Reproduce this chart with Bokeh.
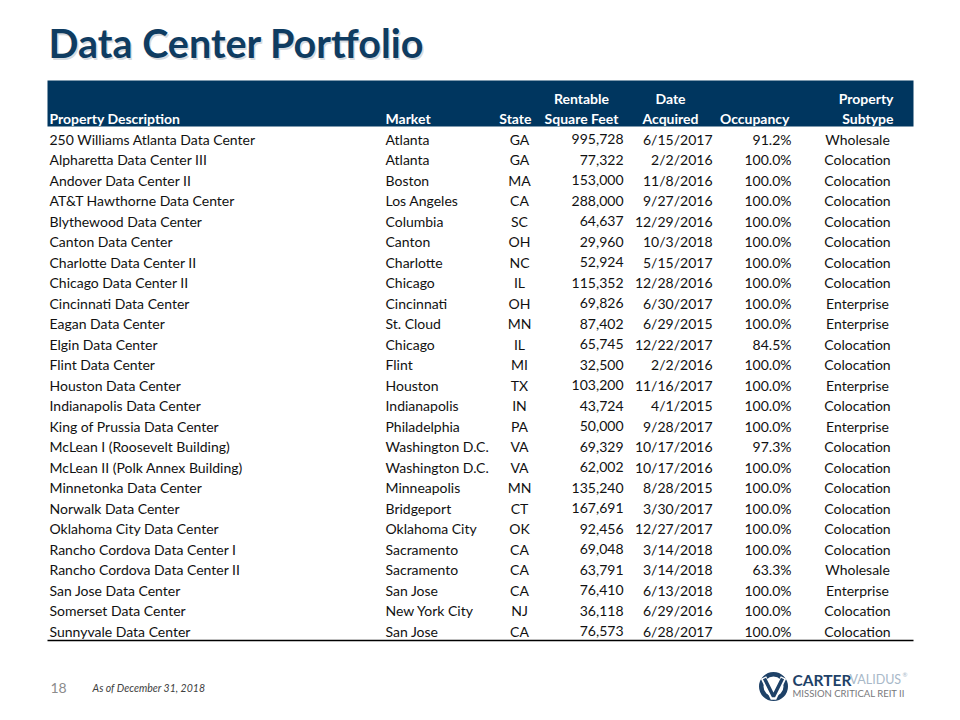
from bokeh.plotting import figure
from bokeh.models import Range1d, ColumnDataSource
from bokeh.core.properties import value
from bokeh.embed import file_html
from bokeh.resources import INLINE

title = "Data Center Portfolio"

properties = [
    "250 Williams Atlanta Data Center", "Alpharetta Data Center III", "Andover Data Center II",
    "AT&T Hawthorne Data Center", "Blythewood Data Center", "Canton Data Center",
    "Charlotte Data Center II", "Chicago Data Center II", "Cincinnati Data Center",
    "Eagan Data Center", "Elgin Data Center", "Flint Data Center", "Houston Data Center",
    "Indianapolis Data Center", "King of Prussia Data Center", "McLean I (Roosevelt Building)",
    "McLean II (Polk Annex Building)", "Minnetonka Data Center", "Norwalk Data Center",
    "Oklahoma City Data Center", "Rancho Cordova Data Center I", "Rancho Cordova Data Center II",
    "San Jose Data Center", "Somerset Data Center", "Sunnyvale Data Center",
]
markets = [
    "Atlanta", "Atlanta", "Boston", "Los Angeles", "Columbia", "Canton", "Charlotte", "Chicago",
    "Cincinnati", "St. Cloud", "Chicago", "Flint", "Houston", "Indianapolis", "Philadelphia",
    "Washington D.C.", "Washington D.C.", "Minneapolis", "Bridgeport", "Oklahoma City",
    "Sacramento", "Sacramento", "San Jose", "New York City", "San Jose",
]
states = ["GA", "GA", "MA", "CA", "SC", "OH", "NC", "IL", "OH", "MN", "IL", "MI", "TX", "IN",
          "PA", "VA", "VA", "MN", "CT", "OK", "CA", "CA", "CA", "NJ", "CA"]
square_feet = [995728, 77322, 153000, 288000, 64637, 29960, 52924, 115352, 69826, 87402, 65745,
               32500, 103200, 43724, 50000, 69329, 62002, 135240, 167691, 92456, 69048, 63791,
               76410, 36118, 76573]
date_acquired = ["6/15/2017", "2/2/2016", "11/8/2016", "9/27/2016", "12/29/2016", "10/3/2018",
                 "5/15/2017", "12/28/2016", "6/30/2017", "6/29/2015", "12/22/2017", "2/2/2016",
                 "11/16/2017", "4/1/2015", "9/28/2017", "10/17/2016", "10/17/2016", "8/28/2015",
                 "3/30/2017", "12/27/2017", "3/14/2018", "3/14/2018", "6/13/2018", "6/29/2016",
                 "6/28/2017"]
occupancy = [91.2, 100.0, 100.0, 100.0, 100.0, 100.0, 100.0, 100.0, 100.0, 100.0, 84.5, 100.0,
             100.0, 100.0, 100.0, 97.3, 100.0, 100.0, 100.0, 100.0, 100.0, 63.3, 100.0, 100.0,
             100.0]
subtypes = ["Wholesale", "Colocation", "Colocation", "Colocation", "Colocation", "Colocation",
            "Colocation", "Colocation", "Enterprise", "Enterprise", "Colocation", "Colocation",
            "Enterprise", "Colocation", "Enterprise", "Colocation", "Colocation", "Colocation",
            "Colocation", "Colocation", "Colocation", "Wholesale", "Enterprise", "Colocation",
            "Colocation"]

header_line1 = ["", "", "", "Rentable", "Date", "", "Property"]
header_line2 = ["Property Description", "Market", "State", "Square Feet", "Acquired",
                "Occupancy", "Subtype"]
footer_page = "18"
footer_note = "As of December 31, 2018"

# ---- layout (pixel-like coordinates, y downward) ----
W, H = 944, 704
p = figure(width=W, height=H, x_range=Range1d(0, W), y_range=Range1d(H, 0),
           output_backend="svg", toolbar_location=None, min_border=0)
p.axis.visible = False
p.grid.visible = False
p.outline_line_color = None
p.background_fill_color = "white"
p.border_fill_color = "white"

FONT = value("Lato")
NAVY = "#00365f"
MID = "middle"

# title with soft shadow
p.text(x=[49.5], y=[43.5], text=[title], text_font=FONT, text_font_size="39.5px",
       text_font_style="bold", text_color="#8b98a5", text_alpha=0.35, text_baseline=MID)
p.text(x=[48], y=[42], text=[title], text_font=FONT, text_font_size="39.5px",
       text_font_style="bold", text_color="#0f3c61", text_baseline=MID)

# header band
tbl_left, tbl_right = 47, 913
p.quad(left=[tbl_left], right=[tbl_right], top=[80], bottom=[126], fill_color=NAVY,
       line_color=None)

hdr_x = [49, 385, 531, 581, 670, 789, 893]
hdr_align = ["left", "left", "right", "center", "center", "right", "right"]
sel = [i for i, t in enumerate(header_line1) if t]
p.text(x=[hdr_x[i] for i in sel], y=[97.5] * len(sel), text=[header_line1[i] for i in sel],
       text_font=FONT, text_font_size="14px", text_font_style="bold", text_color="white",
       text_baseline=MID, text_align=[hdr_align[i] for i in sel])
p.text(x=hdr_x, y=[118] * len(hdr_x), text=header_line2, text_font=FONT,
       text_font_size="14px", text_font_style="bold", text_color="white",
       text_baseline=MID, text_align=hdr_align)

# data rows
n = len(properties)
base, step = 138.5, 20.5
ys = [base + i * step for i in range(n)]
cols = [
    (properties, 49, "left"),
    (markets, 385, "left"),
    (states, 519, "center"),
    (["{:,}".format(v) for v in square_feet], 623, "right"),
    (date_acquired, 712, "right"),
    (["{:.1f}%".format(v) for v in occupancy], 791, "right"),
    (subtypes, 857, "center"),
]
for vals, x, align in cols:
    src = ColumnDataSource(dict(x=[x] * n, y=ys, t=vals))
    p.text(x="x", y="y", text="t", source=src, text_font=FONT, text_font_size="14px",
           text_color="#111111", text_baseline=MID, text_align=align)

# bottom rule
p.segment(x0=[tbl_left], x1=[tbl_right], y0=[640], y1=[640], line_color="black",
          line_width=1.3)

# footer
p.text(x=[50], y=[687], text=[footer_page], text_font=FONT, text_font_size="14px",
       text_color="#8c8c8c", text_baseline=MID)
p.text(x=[92], y=[687], text=[footer_note], text_font=FONT, text_font_size="10.5px",
       text_font_style="italic", text_color="#404040", text_baseline=MID)

# logo
LOGO = "#1e4167"
p.annulus(x=[773], y=[686], inner_radius=10, outer_radius=14.5, fill_color=LOGO,
          line_color=None)
p.multi_line(xs=[[763, 773, 783]], ys=[[677, 698, 677]], line_color="white", line_width=6)
p.multi_line(xs=[[764, 773, 782]], ys=[[678, 696, 678]], line_color=LOGO, line_width=3.5)
p.text(x=[792], y=[679], text=["CARTER"], text_font=FONT, text_font_size="15.5px",
       text_font_style="bold", text_color=LOGO, text_baseline=MID)
p.text(x=[849], y=[679], text=["VALIDUS"], text_font=FONT, text_font_size="12.5px",
       text_color="#a8b8c8", text_baseline=MID)
p.text(x=[902], y=[674], text=["®"], text_font=FONT, text_font_size="6px",
       text_color="#a8b8c8", text_baseline=MID)
p.text(x=[792], y=[693], text=["MISSION CRITICAL REIT II"], text_font=FONT,
       text_font_size="9.5px", text_color="#77787b", text_baseline=MID)

open("out.html", "w").write(file_html(p, INLINE))
